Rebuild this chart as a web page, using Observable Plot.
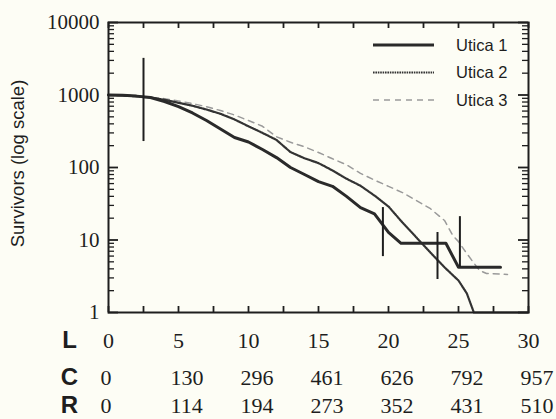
<!DOCTYPE html>
<html><head><meta charset="utf-8">
<script src="https://cdn.jsdelivr.net/npm/d3@7"></script>
<script src="https://cdn.jsdelivr.net/npm/@observablehq/plot@0.6"></script>
<style>
html,body{margin:0;padding:0;background:#fdfdf5;}
#chart svg{display:block;background:#fdfdf5}
#chart .serif text, #chart .serif{font-family:"Liberation Serif","Times New Roman",Times,serif !important;}
#chart .sans text, #chart .sans{font-family:"Liberation Sans",Arial,Helvetica,sans-serif !important;}
</style>
</head><body><div id="chart"></div>
<script>
// Series: L (x), survivors (y)
const utica1L = [0,1,2,3,4,5,6,7,8,9,10,11,12,13,14,15,16,17,18,19,20,20.9,24.1,25,28];
const utica1V = [1000,990,965,925,813,690,565,445,340,259,225,177,137,100,80,64,55,40,28,23,12.7,9,9,4.2,4.2];
const utica2L = [0,1,2,3,4,5,6,7,8,9,10,11,12,13,14,15,16,17,18,19,20,21,22,23,24,25,25.6,26.1,30];
const utica2V = [1000,985,960,920,860,780,710,630,550,460,370,300,240,163,134,115,91,70,56,41,29,17.4,10.8,6.7,4.2,2.76,1.83,1,1];
const utica3L = [0,1,2,3,4,5,6,7,8,9,10,11,12,13,14,15,16,17,18,19,20,21,22,23,24,24.6,25,25.5,26,26.5,27,28.5];
const utica3V = [1000,985,960,930,890,830,760,690,610,530,445,370,265,223,193,161,132,109,83,67,55,45,35,27,18.6,11.5,9.5,6.9,5.1,3.8,3.45,3.35];
// Error bars (Utica 1)
const errL  = [2.5, 19.6, 23.5, 25.1];
const errLo = [228, 5.9, 2.85, 4.2];
const errHi = [3200, 28, 12.7, 21];
// Axes
const yTicks = [1, 10, 100, 1000, 10000];
const lTicks = [0, 5, 10, 15, 20, 25, 30];
const lLabels = ["0","5","10","15","20","25","30"];
const cLabels = ["0","130","296","461","626","792","957"];
const rLabels = ["0","114","194","273","352","431","510"];
const rowNames = ["L","C","R"];
const seriesNames = ["Utica 1","Utica 2","Utica 3"];

const toRows = (L, V) => L.map((l, i) => ({L: l, v: V[i]}));
const u1 = toRows(utica1L, utica1V);
const u2 = toRows(utica2L, utica2V);
const u3 = toRows(utica3L, utica3V);
const errs = errL.map((l, i) => ({L: l, lo: errLo[i], hi: errHi[i]}));

const minorY = [];
for (let e = 0; e < 4; e++) for (let k = 2; k <= 9; k++) minorY.push(k * 10 ** e);
const xTicks = d3.range(0, 30.01, 2.5);

const W = 556, H = 419, mL = 108, mR = 28, mT = 22, mB = 107;
const iW = W - mL - mR, iH = H - mT - mB;
const ink = "#1e1e1e";
const serif = "Liberation Serif";
const sans = "Liberation Sans";
const rowDy = [28, 65, 93];

const chart = Plot.plot({
  width: W, height: H,
  marginLeft: mL, marginRight: mR, marginTop: mT, marginBottom: mB,
  style: {background: "#fdfdf5", fontSize: "21px", color: ink},
  x: {domain: [0, 30], axis: null},
  y: {type: "log", domain: [1, 10000]},
  marks: [
    Plot.axisY(yTicks, {tickSize: 0, tickPadding: 9, tickFormat: d => String(d), label: null, fontSize: 21, fontFamily: serif, fill: ink, className: "serif"}),
    // inward ticks
    Plot.tickY(minorY, {y: d => d, insetRight: iW - 6, stroke: ink, strokeWidth: 1.3}),
    Plot.tickY(minorY, {y: d => d, insetLeft: iW - 6, stroke: ink, strokeWidth: 1.3}),
    Plot.tickY(yTicks, {y: d => d, insetRight: iW - 10, stroke: ink, strokeWidth: 1.8}),
    Plot.tickY(yTicks, {y: d => d, insetLeft: iW - 10, stroke: ink, strokeWidth: 1.8}),
    Plot.tickX(xTicks, {x: d => d, insetBottom: iH - 6, stroke: ink, strokeWidth: 1.8}),
    Plot.tickX(xTicks, {x: d => d, insetTop: iH - 6, stroke: ink, strokeWidth: 1.8}),
    // series
    Plot.line(u3, {x: "L", y: "v", stroke: "#9a9a9a", strokeWidth: 1.5, strokeDasharray: "6,5"}),
    Plot.line(u2, {x: "L", y: "v", stroke: "#333", strokeWidth: 2.2, strokeDasharray: "1.6,0.8"}),
    Plot.line(u1, {x: "L", y: "v", stroke: "#2a2a2a", strokeWidth: 3}),
    Plot.ruleX(errs, {x: "L", y1: "lo", y2: "hi", stroke: ink, strokeWidth: 2}),
    Plot.frame({stroke: ink, strokeWidth: 2}),
    // bottom label rows
    Plot.text(lLabels, {x: (d, i) => lTicks[i], text: d => d, frameAnchor: "bottom", dy: rowDy[0], textAnchor: "middle", lineAnchor: "middle", fontFamily: serif, fontSize: 22, fill: ink, className: "serif"}),
    Plot.text(cLabels, {x: (d, i) => lTicks[i], text: d => d, frameAnchor: "bottom", dy: rowDy[1], dx: -8, textAnchor: "start", lineAnchor: "middle", fontFamily: serif, fontSize: 22, fill: ink, className: "serif"}),
    Plot.text(rLabels, {x: (d, i) => lTicks[i], text: d => d, frameAnchor: "bottom", dy: rowDy[2], dx: -8, textAnchor: "start", lineAnchor: "middle", fontFamily: serif, fontSize: 22, fill: ink, className: "serif"}),
    ...rowNames.map((name, i) => Plot.text([name], {text: d => d, frameAnchor: "bottom-left", textAnchor: "middle", lineAnchor: "middle", dx: -39, dy: rowDy[i], fontFamily: sans, fontWeight: "bold", fontSize: 24, fill: ink, className: "sans"})),
    // y label
    Plot.text(["Survivors (log scale)"], {text: d => d, frameAnchor: "left", textAnchor: "middle", dx: -90, dy: -4, rotate: -90, fontFamily: sans, fontSize: 18.5, fill: ink, className: "sans"})
  ]
});

// legend
const svg = d3.select(chart);
const lg = svg.append("g").attr("class", "sans").attr("text-anchor", "start");
const styles = [
  {stroke: "#2a2a2a", width: 3, dash: null},
  {stroke: "#333", width: 2.2, dash: "1.6,0.8"},
  {stroke: "#9a9a9a", width: 1.5, dash: "6,5"}
];
seriesNames.forEach((name, i) => {
  const y = 45 + i * 27.5;
  lg.append("line").attr("x1", 373).attr("x2", 434).attr("y1", y).attr("y2", y)
    .attr("stroke", styles[i].stroke).attr("stroke-width", styles[i].width)
    .attr("stroke-dasharray", styles[i].dash);
  lg.append("text").attr("x", 456).attr("y", y).attr("dy", "0.35em")
    .attr("text-anchor", "start")
    .attr("font-size", 16.5)
    .attr("fill", ink).text(name);
});
document.getElementById("chart").appendChild(chart);
</script>
</body></html>
